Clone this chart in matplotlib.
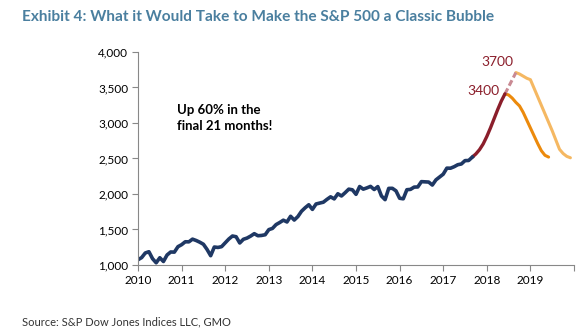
import numpy as np
import matplotlib.pyplot as plt

plt.rcParams['font.family'] = ['Lato', 'DejaVu Sans']

# monthly S&P 500 closes, Jan 2010 - Sep 2017
hist = [
    1074, 1104, 1169, 1187, 1089, 1031, 1102, 1049, 1141, 1183, 1181, 1258,
    1286, 1327, 1326, 1364, 1345, 1321, 1292, 1219, 1131, 1253, 1247, 1258,
    1312, 1366, 1408, 1398, 1310, 1362, 1379, 1407, 1441, 1412, 1416, 1426,
    1498, 1515, 1569, 1598, 1631, 1606, 1686, 1633, 1682, 1757, 1806, 1848,
    1783, 1859, 1872, 1884, 1924, 1960, 1931, 2003, 1972, 2018, 2068, 2059,
    1995, 2105, 2068, 2086, 2107, 2063, 2104, 1972, 1920, 2079, 2080, 2044,
    1940, 1932, 2060, 2065, 2097, 2099, 2174, 2171, 2168, 2126, 2199, 2239,
    2279, 2364, 2363, 2384, 2412, 2423, 2470, 2472, 2519,
]
# Sep 2017 -> Jun 2018 melt-up
rally = [2519, 2565, 2625, 2705, 2810, 2930, 3060, 3190, 3310, 3410]
# Jun 2018 -> Sep 2018 extension to 3700
ext = [3410, 3510, 3610, 3710]
# crash from 3400, Jun 2018 -> Jun 2019
crash1 = [3410, 3395, 3350, 3290, 3240, 3150, 3040, 2930, 2820, 2710, 2610, 2545, 2520]
# crash from 3700, Sep 2018 -> Jan 2020
crash2 = [3710, 3690, 3660, 3630, 3610, 3490, 3370, 3250, 3130, 3010, 2890, 2760, 2630, 2570, 2530, 2510]


def months(start, n):
    return start + np.arange(n) / 12.0


x_hist = months(2010.0, len(hist))
x_rally = months(2017 + 8 / 12, len(rally))
x_ext = months(2018 + 5 / 12, len(ext))
x_c1 = months(2018 + 5 / 12, len(crash1))
x_c2 = months(2018 + 8 / 12, len(crash2))

fig = plt.figure(figsize=(5.87, 3.35), dpi=100)
ax = fig.add_axes([0.2351, 0.209, 0.7428, 0.6358])

ax.plot(x_c2, crash2, color='#f5b862', lw=2.2, solid_capstyle='round')
ax.plot(x_c1, crash1, color='#ec8a0c', lw=2.2, solid_capstyle='round')
ax.plot(x_ext, ext, color='#c98a93', lw=2.2, ls=(0, (2, 1)))
ax.plot(x_rally, rally, color='#8b1e2b', lw=2.4, solid_capstyle='round')
ax.plot(x_hist, hist, color='#1f3864', lw=2.6, solid_joinstyle='round')

ax.text(2018.29, 3450, '3400', color='#8b1e2b', fontsize=10, ha='right', va='center')
ax.text(2018.61, 3860, '3700', color='#8b1e2b', fontsize=10, ha='right', va='center')
ax.text(2010.9, 3270, 'Up 60% in the\nfinal 21 months!', fontsize=9.5, fontweight='bold',
        va='top', linespacing=1.4)

ax.set_xlim(2010, 2020)
ax.set_ylim(1000, 4000)
ax.set_xticks(range(2010, 2021))
ax.set_xticklabels([str(y) for y in range(2010, 2020)] + [''])
ax.set_yticks(range(1000, 4001, 500))
ax.set_yticklabels(['{:,}'.format(v) for v in range(1000, 4001, 500)])
ax.tick_params(direction='out', length=4, color='#888888', labelsize=8.5, pad=3)
for s in ('top', 'right'):
    ax.spines[s].set_visible(False)
for s in ('left', 'bottom'):
    ax.spines[s].set_color('#888888')

fig.text(0.037, 0.95, 'Exhibit 4: What it Would Take to Make the S&P 500 a Classic Bubble',
         color='#4a7f9f', fontsize=11.1, fontweight='bold', va='center')
fig.text(0.037, 0.04, 'Source: S&P Dow Jones Indices LLC, GMO', color='#333333',
         fontsize=8, va='center')

fig.savefig('out.png', dpi=100)
